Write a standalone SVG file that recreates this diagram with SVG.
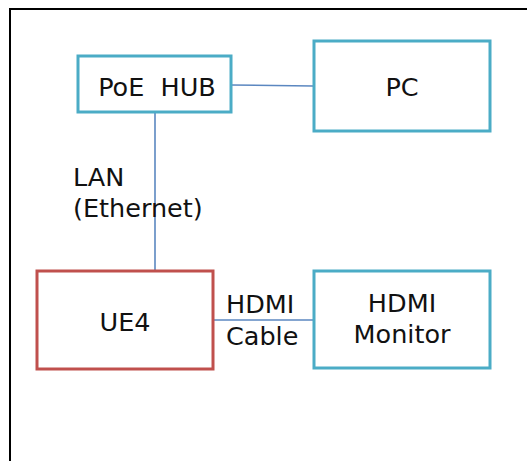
<svg xmlns="http://www.w3.org/2000/svg" width="527" height="461" viewBox="0 0 527 461">
<style>
.box{fill:#fff;stroke-width:3}
.blue{stroke:#4bacc6}
.red{stroke:#c0504d}
.t{font-family:"DejaVu Sans",Verdana,sans-serif;font-size:25.5px;fill:#111}
.m{text-anchor:middle}
.c{stroke:#5b87c0;stroke-width:1.6;fill:none}
</style>
<rect x="0" y="0" width="527" height="461" fill="#fff"/>
<rect x="10" y="9" width="540" height="480" fill="none" stroke="#000" stroke-width="2"/>
<g id="connectors">
<line class="c" x1="231" y1="85" x2="313" y2="86"/>
<line class="c" x1="155" y1="112" x2="155" y2="271"/>
<line class="c" x1="213" y1="320" x2="313" y2="320"/>
</g>
<g id="poe-hub">
<rect class="box blue" x="78" y="56" width="153" height="56"/>
<text class="t m" x="157" y="96" xml:space="preserve">PoE  HUB</text>
</g>
<g id="pc">
<rect class="box blue" x="314" y="41" width="176" height="90"/>
<text class="t m" x="402" y="96">PC</text>
</g>
<g id="ue4">
<rect class="box red" x="37" y="271" width="176" height="98"/>
<text class="t m" x="125" y="331">UE4</text>
</g>
<g id="hdmi-monitor">
<rect class="box blue" x="314" y="271" width="176" height="97"/>
<text class="t m" x="402" y="312">HDMI</text>
<text class="t m" x="402" y="343">Monitor</text>
</g>
<g id="labels">
<text class="t" x="73" y="186">LAN</text>
<text class="t" x="73" y="217">(Ethernet)</text>
<text class="t" x="226" y="313">HDMI</text>
<text class="t" x="226" y="345">Cable</text>
</g>
</svg>
